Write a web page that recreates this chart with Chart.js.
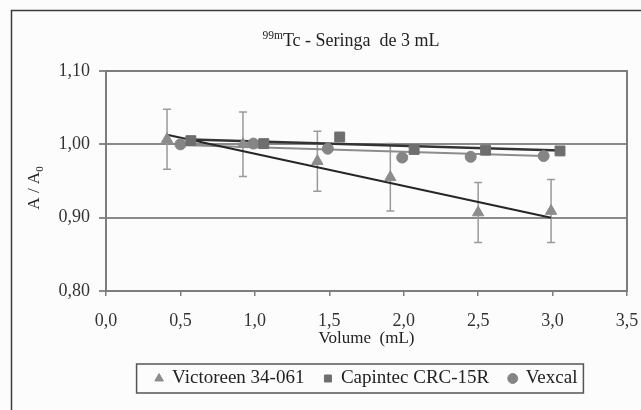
<!DOCTYPE html>
<html>
<head>
<meta charset="utf-8">
<script src="https://cdn.jsdelivr.net/npm/chart.js@4.4.1/dist/chart.umd.min.js"></script>
<style>
  html, body { margin: 0; padding: 0; background: #fcfcfc; }
  #contenedor { width: 641px; height: 410px; }
</style>
</head>
<body>
<div id="contenedor"><canvas id="graficoSeringa" width="641" height="410"></canvas></div>
<script>
// Datos (volumen en mL, A/A0)
const volVictoreen = [0.41, 0.92, 1.42, 1.91, 2.50, 2.99];
const valVictoreen = [1.007, 1.000, 0.977, 0.955, 0.907, 0.909];
const errVictoreen = [0.041, 0.044, 0.041, 0.046, 0.041, 0.043];

const volCapintec = [0.57, 1.06, 1.57, 2.07, 2.55, 3.05];
const valCapintec = [1.005, 1.001, 1.010, 0.993, 0.992, 0.991];

const volVexcal = [0.50, 0.99, 1.49, 1.99, 2.45, 2.94];
const valVexcal = [1.000, 1.001, 0.994, 0.982, 0.983, 0.984];

// Lineas de tendencia (extremos)
const tendVictoreenX = [0.41, 2.99];
const tendVictoreenY = [1.013, 0.900];
const tendCapintecX = [0.57, 3.05];
const tendCapintecY = [1.0065, 0.9915];
const tendVexcalX = [0.50, 2.94];
const tendVexcalY = [0.999, 0.984];

const series = ['Victoreen 34-061', 'Capintec CRC-15R', 'Vexcal'];

const xTicks = [0, 0.5, 1.0, 1.5, 2.0, 2.5, 3.0, 3.5];
const xTickLabels = ['0,0', '0,5', '1,0', '1,5', '2,0', '2,5', '3,0', '3,5'];
const yTicks = [0.80, 0.90, 1.00, 1.10];
const yTickLabels = ['0,80', '0,90', '1,00', '1,10'];

const tituloSup = '99m';
const tituloTexto = 'Tc - Seringa  de 3 mL';
const ejeX = 'Volume  (mL)';
const ejeY = 'A / A';
const ejeYSub = '0';

const fuente = '"Liberation Serif", "Times New Roman", serif';

function puntos(xs, ys) {
  return xs.map((x, i) => ({ x: x, y: ys[i] }));
}

// Fondo, marco exterior, titulo y titulo del eje Y
const decoracion = {
  id: 'decoracion',
  beforeDraw(chart) {
    const ctx = chart.ctx;
    ctx.save();
    ctx.fillStyle = '#fcfcfc';
    ctx.fillRect(0, 0, chart.width, chart.height);
    ctx.restore();
  },
  beforeDatasetsDraw(chart) {
    const ctx = chart.ctx;
    const a = chart.chartArea;
    const sx = chart.scales.x, sy = chart.scales.y;
    ctx.save();
    // borde del area de trazado
    ctx.strokeStyle = '#7d7d7d';
    ctx.lineWidth = 2;
    ctx.strokeRect(a.left, a.top, a.right - a.left, a.bottom - a.top);
    // barras de error (Victoreen)
    ctx.strokeStyle = '#9a9a9a';
    ctx.lineWidth = 1.5;
    volVictoreen.forEach((v, i) => {
      const px = sx.getPixelForValue(v);
      const y1 = sy.getPixelForValue(valVictoreen[i] + errVictoreen[i]);
      const y2 = sy.getPixelForValue(valVictoreen[i] - errVictoreen[i]);
      ctx.beginPath();
      ctx.moveTo(px, y1); ctx.lineTo(px, y2);
      ctx.moveTo(px - 4, y1); ctx.lineTo(px + 4, y1);
      ctx.moveTo(px - 4, y2); ctx.lineTo(px + 4, y2);
      ctx.stroke();
    });
    ctx.restore();
  },
  afterDraw(chart) {
    const ctx = chart.ctx;
    ctx.save();
    // marco exterior
    ctx.strokeStyle = '#3c3c3c';
    ctx.lineWidth = 1.5;
    ctx.strokeRect(11.5, 10.5, 700, 500);

    // titulo con superindice
    ctx.fillStyle = '#222';
    ctx.textBaseline = 'alphabetic';
    ctx.font = '11.5px ' + fuente;
    const wSup = ctx.measureText(tituloSup).width;
    ctx.font = '18px ' + fuente;
    const wMain = ctx.measureText(tituloTexto).width;
    const x0 = 351 - (wSup + wMain) / 2;
    ctx.font = '11.5px ' + fuente;
    ctx.fillText(tituloSup, x0, 39);
    ctx.font = '18px ' + fuente;
    ctx.fillText(tituloTexto, x0 + wSup, 46);

    // titulo eje Y con subindice
    ctx.translate(35, 188);
    ctx.rotate(-Math.PI / 2);
    ctx.textBaseline = 'middle';
    ctx.font = '17px ' + fuente;
    const wA = ctx.measureText(ejeY).width;
    ctx.font = '11px ' + fuente;
    const wS = ctx.measureText(ejeYSub).width;
    const xs = -(wA + wS) / 2;
    ctx.font = '17px ' + fuente;
    ctx.fillText(ejeY, xs, 0);
    ctx.font = '11px ' + fuente;
    ctx.fillText(ejeYSub, xs + wA, 5);
    ctx.restore();

    // recuadro de la leyenda
    const hb = chart.legend.legendHitBoxes;
    if (hb && hb.length) {
      const left = Math.min(...hb.map(b => b.left)) - 19;
      const right = Math.max(...hb.map(b => b.left + b.width)) + 6;
      const cy = hb[0].top + hb[0].height / 2;
      ctx.save();
      ctx.strokeStyle = '#555';
      ctx.lineWidth = 1.5;
      ctx.strokeRect(left, cy - 14.5, right - left, 29);
      ctx.restore();
    }
  }
};

const ctx = document.getElementById('graficoSeringa').getContext('2d');
new Chart(ctx, {
  type: 'scatter',
  data: {
    datasets: [
      {
        label: series[0],
        data: puntos(volVictoreen, valVictoreen),
        pointStyle: 'triangle',
        pointRadius: 6.5,
        backgroundColor: '#8c8c8c',
        borderColor: '#8c8c8c',
        borderWidth: 1
      },
      {
        label: series[1],
        data: puntos(volCapintec, valCapintec),
        pointStyle: 'rect',
        pointRadius: 7,
        backgroundColor: '#6e6e6e',
        borderColor: '#6e6e6e',
        borderWidth: 1
      },
      {
        label: series[2],
        data: puntos(volVexcal, valVexcal),
        pointStyle: 'circle',
        pointRadius: 5.5,
        backgroundColor: '#858585',
        borderColor: '#858585',
        borderWidth: 1
      },
      {
        label: 'tend-victoreen',
        data: puntos(tendVictoreenX, tendVictoreenY),
        showLine: true,
        pointRadius: 0,
        borderColor: '#262626',
        borderWidth: 2
      },
      {
        label: 'tend-capintec',
        data: puntos(tendCapintecX, tendCapintecY),
        showLine: true,
        pointRadius: 0,
        borderColor: '#333333',
        borderWidth: 2.5
      },
      {
        label: 'tend-vexcal',
        data: puntos(tendVexcalX, tendVexcalY),
        showLine: true,
        pointRadius: 0,
        borderColor: '#8c8c8c',
        borderWidth: 2
      }
    ]
  },
  options: {
    responsive: false,
    animation: false,
    layout: {
      padding: { left: 0, right: 14, top: 71, bottom: 12 }
    },
    plugins: {
      title: { display: false },
      tooltip: { enabled: false },
      legend: {
        position: 'bottom',
        fullSize: false,
        labels: {
          filter: item => item.datasetIndex < 3,
          usePointStyle: true,
          boxWidth: 7,
          boxHeight: 7,
          padding: 20,
          color: '#222',
          font: { family: fuente, size: 19 }
        }
      }
    },
    scales: {
      x: {
        type: 'linear',
        min: 0,
        max: 3.5,
        afterBuildTicks: scale => { scale.ticks = xTicks.map(v => ({ value: v })); },
        afterFit: scale => {
          scale.height = 58;
          scale.paddingLeft = 0;
          scale.paddingRight = 0;
        },
        ticks: {
          callback: (value, index) => xTickLabels[index],
          color: '#333',
          padding: 14,
          maxRotation: 0,
          font: { family: fuente, size: 18 }
        },
        grid: {
          drawOnChartArea: false,
          tickLength: 5,
          color: '#7d7d7d',
          lineWidth: 1.5
        },
        border: { color: '#7d7d7d', width: 2 },
        title: {
          display: true,
          text: ejeX,
          color: '#222',
          padding: { top: 0, bottom: 0 },
          font: { family: fuente, size: 17 }
        }
      },
      y: {
        type: 'linear',
        min: 0.80,
        max: 1.10,
        afterBuildTicks: scale => { scale.ticks = yTicks.map(v => ({ value: v })); },
        afterFit: scale => { scale.width = 106; },
        ticks: {
          callback: (value, index) => yTickLabels[index],
          color: '#333',
          padding: 9,
          font: { family: fuente, size: 18 }
        },
        grid: {
          color: '#8a8a8a',
          lineWidth: 2,
          tickLength: 7
        },
        border: { color: '#7d7d7d', width: 2 }
      }
    }
  },
  plugins: [decoracion]
});
</script>
</body>
</html>
